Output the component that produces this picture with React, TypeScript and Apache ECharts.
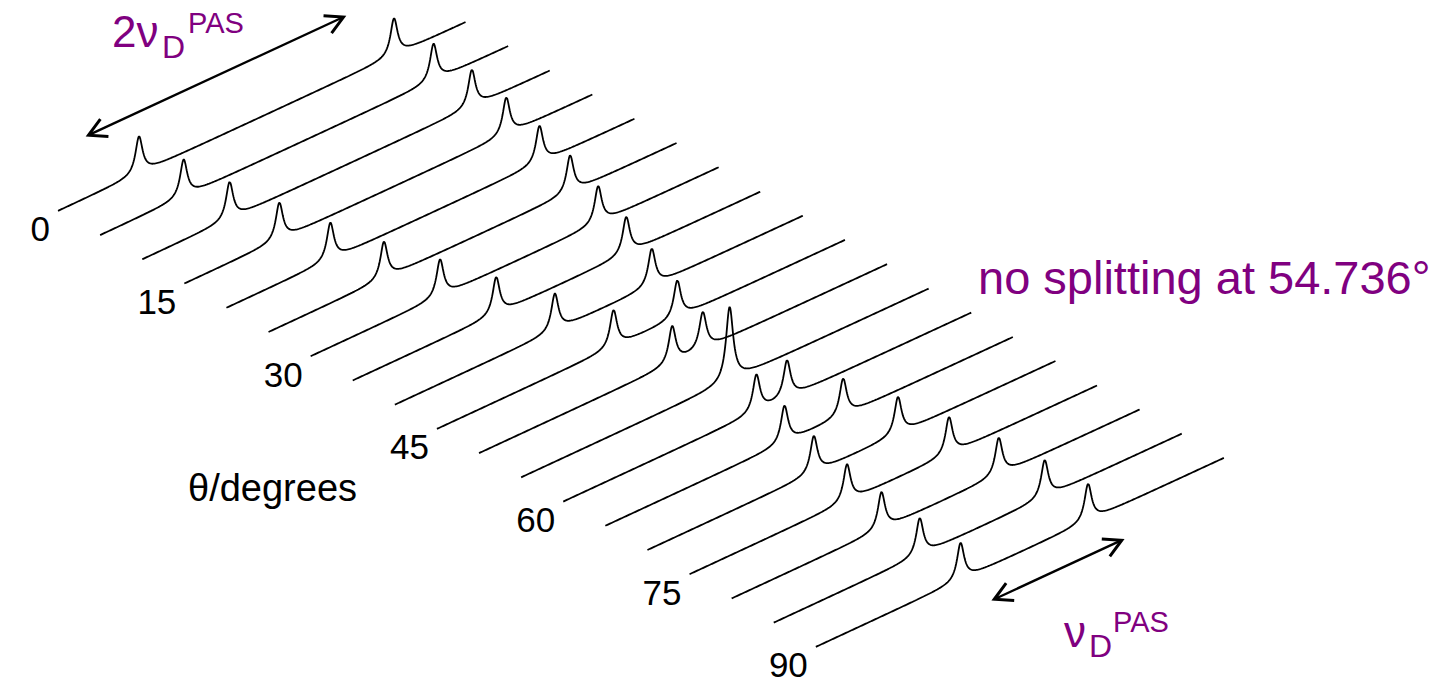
import React, { useEffect, useRef } from "react";
import * as echarts from "echarts";

// Orientation angle of each trace (degrees)
const ANGLES = [0, 5, 10, 15, 20, 25, 30, 35, 40, 45, 50, 55, 60, 65, 70, 75, 80, 85, 90];
// Half of the quadrupolar splitting for each angle, in units of nu_D^PAS
const HALF_SPLITTING = [
  1.0, 0.98, 0.95, 0.89, 0.82, 0.73, 0.62, 0.51, 0.38, 0.25, 0.12, 0.0,
  -0.12, -0.23, -0.33, -0.4, -0.46, -0.49, -0.5,
];
// Angles that carry a tick label
const LABELLED_ANGLES = [0, 15, 30, 45, 60, 75, 90];
// Frequency window of every trace (units of nu_D^PAS) and line half-width
const FREQ_MIN = -1.635;
const FREQ_MAX = 1.565;
const LINE_HWHM = 0.034;
const FREQ_STEP = 0.004;

// Stacked-plot geometry
const WIDTH = 1443;
const HEIGHT = 683;
const PX_PER_NU = 127.5;
const PX_PER_INT = 37;
const ORIGIN_X = 266.5;
const ORIGIN_Y = 114.4;
const TRACE_SHIFT_X = 0.3302;
const TRACE_SHIFT_Y = -0.6546;
const SKEW = 1.596;

const FONT = "'Liberation Sans', Arial, Helvetica, sans-serif";
const PURPLE = "#800080";

function project(f: number, k: number, intensity: number): [number, number] {
  return [f + k * TRACE_SHIFT_X, intensity + SKEW * f + k * TRACE_SHIFT_Y];
}

function lorentz(f: number, centre: number): number {
  const d = f - centre;
  return (LINE_HWHM * LINE_HWHM) / (d * d + LINE_HWHM * LINE_HWHM);
}

function traceData(k: number): [number, number][] {
  const s = HALF_SPLITTING[k];
  const freqs: number[] = [];
  for (let f = FREQ_MIN; f <= FREQ_MAX + 1e-9; f += FREQ_STEP) freqs.push(f);
  freqs.push(-s, s);
  freqs.sort((a, b) => a - b);
  return freqs.map((f) => project(f, k, lorentz(f, -s) + lorentz(f, s)));
}

export default function App() {
  const ref = useRef<HTMLDivElement>(null);

  useEffect(() => {
    if (!ref.current) return;
    const chart = echarts.init(ref.current, undefined, { renderer: "svg" });

    const traces = ANGLES.map((a, k) => ({
      type: "line",
      name: `${a}`,
      data: traceData(k),
      showSymbol: false,
      silent: true,
      clip: false,
      lineStyle: { color: "#000", width: 1.8 },
      z: 2,
    }));

    const labelPoints = LABELLED_ANGLES.map((a) => {
      const k = ANGLES.indexOf(a);
      return [...project(FREQ_MIN, k, 0), a];
    });

    const s0 = Math.abs(HALF_SPLITTING[0]);
    const s90 = Math.abs(HALF_SPLITTING[ANGLES.length - 1]);
    const arrowData = [
      [...project(-s0, -1.2, 0.25), ...project(s0, -1.2, 0.25)],
      [...project(-s90, 18.8, 0), ...project(s90, 18.8, 0)],
    ];

    const arrowHead = (tip: number[], dir: number[]) => {
      const a = 0.5;
      const L = 20;
      const c = Math.cos(a);
      const sn = Math.sin(a);
      const b1 = [tip[0] + L * (dir[0] * c - dir[1] * sn), tip[1] + L * (dir[0] * sn + dir[1] * c)];
      const b2 = [tip[0] + L * (dir[0] * c + dir[1] * sn), tip[1] + L * (-dir[0] * sn + dir[1] * c)];
      return {
        type: "polyline",
        shape: { points: [b1, tip, b2] },
        style: { stroke: "#000", lineWidth: 3, fill: null, lineJoin: "miter" },
      };
    };

    const option = {
      animation: false,
      grid: { left: 0, right: 0, top: 0, bottom: 0 },
      xAxis: {
        type: "value",
        min: -ORIGIN_X / PX_PER_NU,
        max: (WIDTH - ORIGIN_X) / PX_PER_NU,
        show: false,
      },
      yAxis: {
        type: "value",
        min: (ORIGIN_Y - HEIGHT) / PX_PER_INT,
        max: ORIGIN_Y / PX_PER_INT,
        show: false,
      },
      series: [
        ...traces,
        {
          type: "scatter",
          data: labelPoints,
          symbolSize: 0,
          itemStyle: { color: "#000" },
          silent: true,
          label: {
            show: true,
            position: "left",
            distance: 8,
            offset: [0, 18],
            formatter: (p: any) => `${p.value[2]}`,
            fontSize: 35,
            fontFamily: FONT,
            color: "#000",
            opacity: 1,
          },
        },
        {
          type: "custom",
          data: arrowData,
          encode: { x: [0, 2], y: [1, 3] },
          silent: true,
          clip: false,
          renderItem: (_params: any, api: any) => {
            const p1 = api.coord([api.value(0), api.value(1)]);
            const p2 = api.coord([api.value(2), api.value(3)]);
            const dx = p2[0] - p1[0];
            const dy = p2[1] - p1[1];
            const len = Math.hypot(dx, dy);
            const ux = dx / len;
            const uy = dy / len;
            return {
              type: "group",
              children: [
                {
                  type: "line",
                  shape: { x1: p1[0], y1: p1[1], x2: p2[0], y2: p2[1] },
                  style: { stroke: "#000", lineWidth: 2.4 },
                },
                arrowHead(p1, [ux, uy]),
                arrowHead(p2, [-ux, -uy]),
              ],
            };
          },
        },
      ],
      graphic: [
        { type: "text", x: 188, y: 488, style: { text: "θ/degrees", fontSize: 38, fontFamily: FONT, fill: "#000", verticalAlign: "middle" } },
        { type: "text", x: 112, y: 31.6, style: { text: "2ν", fontSize: 44, fontFamily: FONT, fill: PURPLE, verticalAlign: "middle" } },
        { type: "text", x: 162, y: 46.8, style: { text: "D", fontSize: 32, fontFamily: FONT, fill: PURPLE, verticalAlign: "middle" } },
        { type: "text", x: 188, y: 22.8, style: { text: "PAS", fontSize: 29, fontFamily: FONT, fill: PURPLE, verticalAlign: "middle" } },
        { type: "text", x: 1064, y: 631.6, style: { text: "ν", fontSize: 44, fontFamily: FONT, fill: PURPLE, verticalAlign: "middle" } },
        { type: "text", x: 1089, y: 645.8, style: { text: "D", fontSize: 32, fontFamily: FONT, fill: PURPLE, verticalAlign: "middle" } },
        { type: "text", x: 1113, y: 621.8, style: { text: "PAS", fontSize: 29, fontFamily: FONT, fill: PURPLE, verticalAlign: "middle" } },
        { type: "text", x: 978, y: 277, style: { text: "no splitting at 54.736°", fontSize: 47, fontFamily: FONT, fill: PURPLE, verticalAlign: "middle" } },
      ],
    };

    chart.setOption(option as any);
    return () => chart.dispose();
  }, []);

  return (
    <div
      ref={ref}
      style={{ position: "fixed", left: 0, top: 0, width: WIDTH, height: HEIGHT, background: "#fff" }}
    />
  );
}
